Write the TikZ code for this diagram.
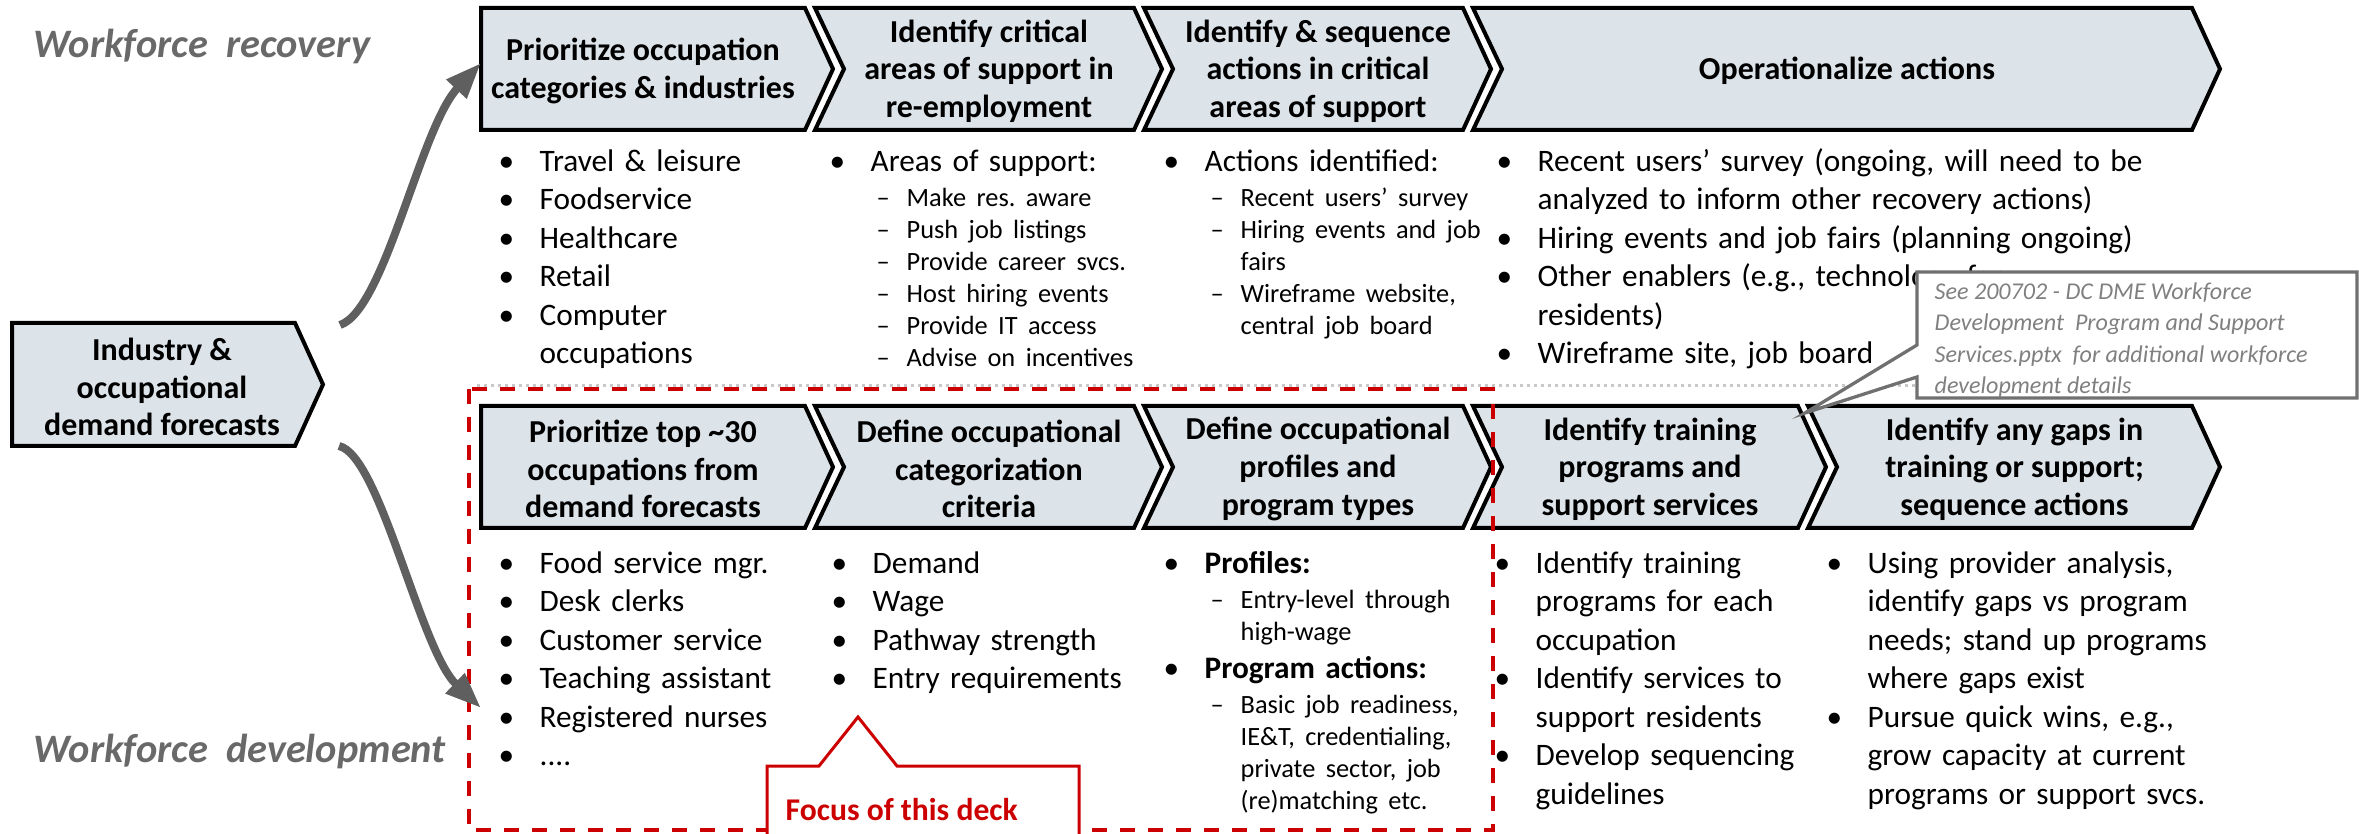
\documentclass[tikz,border=0pt]{standalone}
\usepackage{fontspec}
\setmainfont{Carlito}
\usepackage{xcolor}
\usetikzlibrary{arrows.meta}

\definecolor{chevfill}{RGB}{220,227,233}
\definecolor{deckred}{RGB}{204,0,0}
\definecolor{arrowgray}{RGB}{95,95,95}
\definecolor{labelgray}{RGB}{105,105,105}
\definecolor{notegray}{RGB}{112,112,112}
\definecolor{notetext}{RGB}{128,128,128}
\definecolor{dotgray}{RGB}{200,200,200}

\newcommand{\bodyfont}{\fontsize{8.9pt}{10.95pt}\selectfont}
\newcommand{\subfont}{\fontsize{7.5pt}{9.1pt}\selectfont}
% bullet item and dash sub-item
\newcommand{\bitem}[1]{\par\hangindent=3.7mm\hangafter=1\noindent\makebox[3.7mm][l]{\hspace*{-0.4mm}\textbullet}\strut#1}
\newcommand{\ditem}[1]{\par{\subfont\hangindent=7.3mm\hangafter=1\noindent\hspace*{4.3mm}\makebox[3mm][l]{--}#1\par}}

% chevron: name, left x, right x, top y, notch depth, heading
\newcommand{\chevron}[6]{%
  \draw[chevbox] (#2,#4) -- (#3,#4) -- (#3+28,#4+61) -- (#3,#4+122)
    -- (#2,#4+122) -- (#2+#5,#4+61) -- cycle;
  \node[head] (#1) at ({(#2+#5+#3)/2},#4+63) {#6};}

\begin{document}
\frenchspacing
\begin{tikzpicture}[x=0.1mm, y=-0.1mm,
  chevbox/.style={draw=black, line width=0.4mm, fill=chevfill, line join=miter},
  head/.style={align=center, inner sep=0pt, font=\bfseries\fontsize{9.1pt}{10.7pt}\selectfont},
  body/.style={anchor=north west, inner sep=0pt, text width=70mm, align=left, font=\bodyfont},
  sidelabel/.style={anchor=base west, inner sep=0pt, text=labelgray,
    font=\bfseries\itshape\fontsize{11.5pt}{13pt}\selectfont},
  flow/.style={draw=arrowgray, line width=0.8mm, -{Triangle[length=3.6mm, width=2.6mm]}},
  dotline/.style={draw=dotgray, line width=0.3mm, dash pattern=on 0.3mm off 0.4mm},
  focusline/.style={draw=deckred, line width=0.4mm, dash pattern=on 1.5mm off 1.3mm},
  focusbox/.style={draw=deckred, line width=0.3mm, fill=white},
  focustext/.style={anchor=base west, inner sep=0pt, text=deckred,
    font=\bfseries\fontsize{9pt}{11pt}\selectfont},
  notebox/.style={draw=notegray, line width=0.33mm, fill=white, line join=miter},
  notetext/.style={anchor=base west, inner sep=0pt, align=left, text=notetext,
    font=\itshape\fontsize{6.85pt}{9pt}\selectfont}]

\useasboundingbox (0,0) rectangle (2359,834);

% Separator between the two tracks
\draw[dotline] (477,386) -- (1917,386);

% Source box
\draw[chevbox] (12,323) -- (295,323) -- (323,384.5) -- (295,446) -- (12,446) -- cycle;
\node[head] (src) at (162,387) {Industry \&\\occupational\\demand forecasts};

% Workforce recovery steps
\chevron{rec1}{481}{805}{8}{0}{Prioritize occupation\\categories \& industries}
\chevron{rec2}{815}{1134}{8}{29}{Identify critical\\areas of support in\\re-employment}
\chevron{rec3}{1144}{1463}{8}{29}{Identify \& sequence\\actions in critical\\areas of support}
\chevron{rec4}{1473}{2192}{8}{29}{Operationalize actions}

% Workforce development steps
\chevron{dev1}{481}{805}{406}{0}{Prioritize top \textasciitilde30\\occupations from\\demand forecasts}
\chevron{dev2}{815}{1134}{406}{29}{Define occupational\\categorization\\criteria}
\chevron{dev3}{1144}{1463}{406}{29}{Define occupational\\profiles and\\program types}
\chevron{dev4}{1473}{1798}{406}{29}{Identify training\\programs and\\support services}
\chevron{dev5}{1808}{2192}{406}{29}{Identify any gaps in\\training or support;\\sequence actions}

% Recovery lists
\node[body] (recl1) at (502,132) {\bitem{Travel \& leisure}\bitem{Foodservice}\bitem{Healthcare}\bitem{Retail}\bitem{Computer\newline occupations}\par};
\node[body] (recl2) at (833,132) {\bitem{Areas of support:}\par\vspace{0.3mm}%
  \ditem{Make res. aware}\ditem{Push job listings}\ditem{Provide career svcs.}%
  \ditem{Host hiring events}\ditem{Provide IT access}\ditem{Advise on incentives}};
\node[body] (recl3) at (1167,132) {\bitem{Actions identified:}\par\vspace{0.3mm}%
  \ditem{Recent users’ survey}\ditem{Hiring events and job\newline fairs}\ditem{Wireframe website,\newline central job board}};
\node[body] (recl4) at (1500,132) {\bitem{Recent users’ survey (ongoing, will need to be\newline analyzed to inform other recovery actions)}%
  \bitem{Hiring events and job fairs (planning ongoing)}%
  \bitem{Other enablers (e.g., technology for\newline residents)}\bitem{Wireframe site, job board}\par};

% Development lists
\node[body] (devl1) at (502,534) {\bitem{Food service mgr.}\bitem{Desk clerks}\bitem{Customer service}%
  \bitem{Teaching assistant}\bitem{Registered nurses}\bitem{....}\par};
\node[body] (devl2) at (835,534) {\bitem{Demand}\bitem{Wage}\bitem{Pathway strength}\bitem{Entry requirements}\par};
\node[body] (devl3) at (1167,534) {\bitem{\textbf{Profiles:}}\par\vspace{0.3mm}%
  \ditem{Entry-level through\newline high-wage}\bitem{\textbf{Program actions:}}\par\vspace{0.3mm}%
  \ditem{Basic job readiness,\newline IE\&T, credentialing,\newline private sector, job\newline (re)matching etc.}};
\node[body] (devl4) at (1498,534) {\bitem{Identify training\newline programs for each\newline occupation}%
  \bitem{Identify services to\newline support residents}\bitem{Develop sequencing\newline guidelines}\par};
\node[body] (devl5) at (1830,534) {\bitem{Using provider analysis,\newline identify gaps vs program\newline needs; stand up programs\newline where gaps exist}%
  \bitem{Pursue quick wins, e.g.,\newline grow capacity at current\newline programs or support svcs.}\par};

% Focus frame and its tag
\draw[focusline] (469,389) rectangle (1493,830);
\draw[focusbox] (767,840) -- (767,766) -- (819,766) -- (858,717) -- (897,766) -- (1079,766) -- (1079,840);
\node[focustext] (focus) at (785,820) {Focus of this deck};

% Reference note
\draw[notebox] (1917,272) -- (2357,272) -- (2357,398) -- (1917,398) -- (1917,377) -- (1805,413) -- (1917,345) -- cycle;
\node[notetext] (note) at (1934,394) {See 200702 - DC DME Workforce\\Development~ Program and Support\\Services.pptx~ for additional workforce\\development details};

% Track labels
\node[sidelabel] (wrec) at (33,58) {Workforce~ recovery};
\node[sidelabel] (wdev) at (33,762) {Workforce~ development};

% Flow arrows from the forecasts
\coordinate (up0) at (340,325);
\coordinate (up1) at (481,63);
\coordinate (dn0) at (339,446);
\coordinate (dn1) at (481,708);
\draw[flow] (up0) .. controls (385,310) and (420,128) .. (up1);
\draw[flow] (dn0) .. controls (380,455) and (420,650) .. (dn1);

\end{tikzpicture}
\end{document}
